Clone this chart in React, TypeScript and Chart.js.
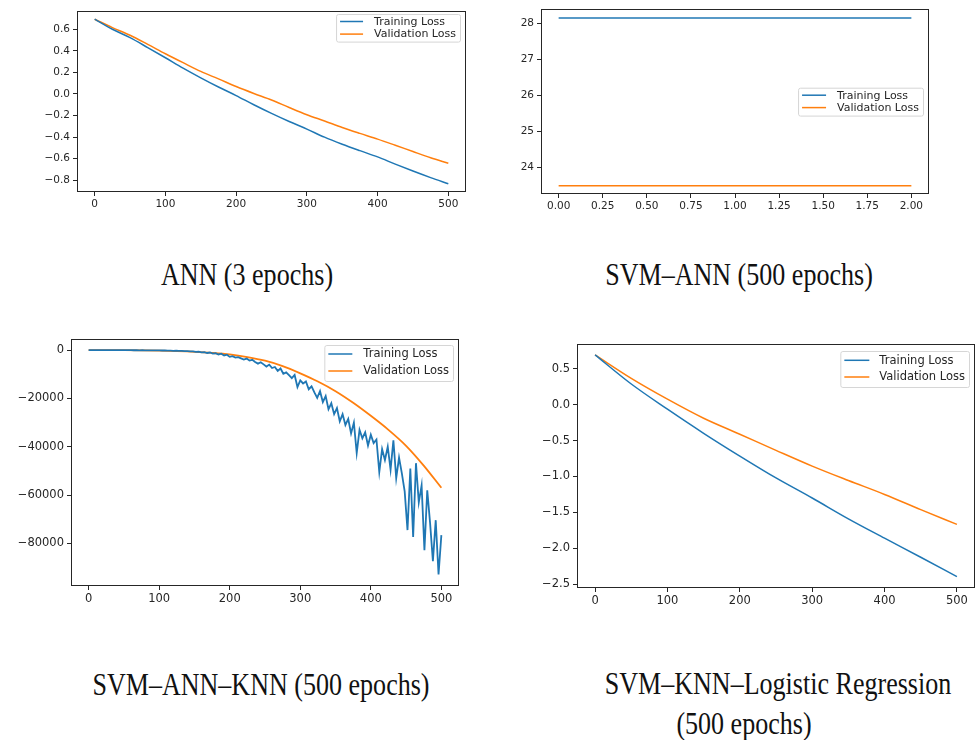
import React, { useEffect, useRef } from "react";
import { Chart, registerables } from "chart.js";

Chart.register(...registerables);

// ---------- DATA ----------
const annEpochs = [0, 25, 50, 75, 100, 125, 150, 175, 200, 225, 250, 275, 300, 325, 350, 375, 400, 425, 450, 475, 500];
const annTraining = [0.693, 0.6, 0.522, 0.43, 0.336, 0.24, 0.15, 0.065, -0.015, -0.1, -0.18, -0.255, -0.325, -0.4, -0.465, -0.525, -0.583, -0.65, -0.714, -0.775, -0.832];
const annValidation = [0.693, 0.615, 0.544, 0.46, 0.373, 0.29, 0.209, 0.14, 0.069, 0.005, -0.055, -0.125, -0.192, -0.25, -0.31, -0.365, -0.418, -0.475, -0.533, -0.59, -0.642];
const annYTicks = [-0.8, -0.6, -0.4, -0.2, 0.0, 0.2, 0.4, 0.6];
const epochTicks = [0, 100, 200, 300, 400, 500];

const svmAnnEpochs = [0, 1, 2];
const svmAnnTraining = [28.15, 28.15, 28.15];
const svmAnnValidation = [23.49, 23.49, 23.49];
const svmAnnXTicks = [0, 0.25, 0.5, 0.75, 1.0, 1.25, 1.5, 1.75, 2.0];
const svmAnnYTicks = [24, 25, 26, 27, 28];

const knnTrainEpochs = [
  0, 4, 8, 12, 16, 20, 24, 28, 32, 36,
  40, 44, 48, 52, 56, 60, 64, 68, 72, 76,
  80, 84, 88, 92, 96, 100, 104, 108, 112, 116,
  120, 124, 128, 132, 136, 140, 144, 148, 152, 156,
  160, 164, 168, 172, 176, 180, 184, 188, 192, 196,
  200, 204, 208, 212, 216, 220, 224, 228, 232, 236,
  240, 244, 248, 252, 256, 260, 264, 268, 272, 276,
  280, 284, 288, 292, 296, 300, 304, 308, 312, 316,
  320, 324, 328, 332, 336, 340, 344, 348, 352, 356,
  360, 364, 368, 372, 376, 380, 384, 388, 392, 396,
  400, 404, 408, 412, 416, 420, 424, 428, 432, 436,
  440, 444, 448, 452, 456, 460, 464, 468, 472, 476,
  480, 484, 488, 492, 496, 500,
];
const knnTraining = [
  0, 20, -10, 10, -5, 0, -20, 10, -15, 0,
  -25, -10, -30, -20, -45, -25, -50, -40, -70, -50,
  -90, -75, -110, -90, -140, -130, -170, -150, -220, -190,
  -280, -250, -350, -300, -450, -420, -560, -500, -750, -650,
  -950, -850, -1200, -1000, -1450, -1300, -1800, -1500, -2200, -1900,
  -2800, -2500, -3100, -2900, -3400, -3900, -3500, -4300, -4000, -4900,
  -5600, -5000, -5900, -6800, -6000, -7400, -7000, -8600, -7600, -9800,
  -9200, -10400, -11600, -10300, -15300, -12500, -13800, -13000, -16200, -15000,
  -17500, -19800, -17000, -21500, -19000, -24500, -22000, -26500, -24000, -29500,
  -26500, -31000, -28500, -34500, -30000, -42600, -33000, -36500, -34000, -39500,
  -35000, -38500, -37000, -50500, -41000, -45500, -40000, -49500, -37300, -53000,
  -44500, -51000, -58500, -74500, -49000, -77400, -46800, -63000, -56000, -82800,
  -58000, -71500, -87400, -70400, -92900, -76600,
];
const knnValEpochs = [0, 25, 50, 75, 100, 125, 150, 175, 200, 225, 250, 275, 300, 325, 350, 375, 400, 425, 450, 475, 500];
const knnValidation = [0, 0, -20, -80, -200, -400, -700, -1150, -1800, -2900, -4400, -6600, -9600, -13000, -17000, -21800, -27200, -33000, -39600, -47800, -57000];
const knnYTicks = [-80000, -60000, -40000, -20000, 0];

const lrEpochs = [0, 50, 100, 150, 200, 250, 300, 350, 400, 450, 500];
const lrTraining = [0.696, 0.29, -0.061, -0.397, -0.715, -1.02, -1.3, -1.59, -1.86, -2.126, -2.397];
const lrValidation = [0.696, 0.369, 0.079, -0.187, -0.41, -0.635, -0.855, -1.056, -1.25, -1.462, -1.668];
const lrYTicks = [-2.5, -2.0, -1.5, -1.0, -0.5, 0.0, 0.5];

const seriesLabels = ["Training Loss", "Validation Loss"];
const captions = [
  "ANN (3 epochs)",
  "SVM\u2013ANN (500 epochs)",
  "SVM\u2013ANN\u2013KNN (500 epochs)",
  "SVM\u2013KNN\u2013Logistic Regression",
  "(500 epochs)",
];

// ---------- STYLE ----------
const BLUE = "#1f77b4";
const ORANGE = "#ff7f0e";
const INK = "#262626";
const FONT = "'DejaVu Sans', sans-serif";

const minus = (s: string) => s.replace("-", "\u2212");

type LegendOpts = {
  loc: "upper right" | "center right";
  dx: number;
  dy: number;
  padTop: number;
  rowGap: number;
  padBottom: number;
  pad: number;
  handle: number;
  gap: number;
  size: number;
};

const framePlugin = {
  id: "mplFrame",
  afterDatasetsDraw(chart: any) {
    const { ctx, chartArea: a } = chart;
    ctx.save();
    ctx.strokeStyle = INK;
    ctx.lineWidth = 1;
    ctx.strokeRect(Math.round(a.left) + 0.5, Math.round(a.top) + 0.5, Math.round(a.right - a.left) - 1, Math.round(a.bottom - a.top) - 1);
    ctx.restore();
  },
};

const legendPlugin = {
  id: "mplLegend",
  afterDraw(chart: any, _args: any, opts: LegendOpts) {
    if (!opts || !opts.loc) return;
    const { ctx, chartArea: a } = chart;
    const sets = chart.data.datasets;
    ctx.save();
    ctx.font = `${opts.size}px ${FONT}`;
    let textW = 0;
    sets.forEach((d: any) => (textW = Math.max(textW, ctx.measureText(d.label).width)));
    const w = opts.pad + opts.handle + opts.gap + textW + opts.pad;
    const h = opts.padTop + opts.rowGap * (sets.length - 1) + opts.padBottom;
    const x = a.right - opts.dx - w;
    const y = opts.loc === "upper right" ? a.top + opts.dy : (a.top + a.bottom) / 2 - h / 2 + opts.dy;
    ctx.fillStyle = "rgba(255,255,255,0.85)";
    ctx.strokeStyle = "#d6d6d6";
    ctx.lineWidth = 1;
    ctx.beginPath();
    (ctx as any).roundRect(x + 0.5, y + 0.5, w, h, 2);
    ctx.fill();
    ctx.stroke();
    sets.forEach((d: any, i: number) => {
      const cy = y + opts.padTop + i * opts.rowGap;
      ctx.strokeStyle = d.borderColor;
      ctx.lineWidth = 1.5;
      ctx.beginPath();
      ctx.moveTo(x + opts.pad, cy);
      ctx.lineTo(x + opts.pad + opts.handle, cy);
      ctx.stroke();
      ctx.fillStyle = INK;
      ctx.textBaseline = "middle";
      ctx.textAlign = "left";
      ctx.fillText(d.label, x + opts.pad + opts.handle + opts.gap, cy + 0.5);
    });
    ctx.restore();
  },
};

type PanelSpec = {
  left: number;
  top: number;
  width: number;
  height: number;
  padTop: number;
  padRight: number;
  yAxisW: number;
  xAxisH: number;
  xMin: number;
  xMax: number;
  yMin: number;
  yMax: number;
  xTicks: number[];
  yTicks: number[];
  xFmt: (v: number) => string;
  yFmt: (v: number) => string;
  fontSize: number;
  lineWidth: number;
  datasets: { label: string; color: string; xs: number[]; ys: number[]; smooth: boolean }[];
  legend: LegendOpts;
};

function Panel({ spec }: { spec: PanelSpec }) {
  const ref = useRef<HTMLCanvasElement | null>(null);
  useEffect(() => {
    if (!ref.current) return;
    const tickFont = { family: FONT, size: spec.fontSize };
    const axisCommon = {
      type: "linear" as const,
      grid: { display: true, drawOnChartArea: false, drawTicks: true, tickLength: 4, color: INK, tickColor: INK, tickWidth: 1 },
      border: { display: false },
    };
    const chart = new Chart(ref.current, {
      type: "line",
      data: {
        datasets: spec.datasets.map((d) => ({
          label: d.label,
          data: d.xs.map((x, i) => ({ x, y: d.ys[i] })),
          borderColor: d.color,
          backgroundColor: d.color,
          borderWidth: spec.lineWidth,
          pointRadius: 0,
          fill: false,
          cubicInterpolationMode: d.smooth ? ("monotone" as const) : ("default" as const),
          tension: 0,
        })),
      },
      options: {
        animation: false,
        responsive: false,
        maintainAspectRatio: false,
        events: [],
        layout: { padding: { top: spec.padTop, right: spec.padRight, left: 0, bottom: 0 } },
        plugins: {
          legend: { display: false },
          tooltip: { enabled: false },
          mplLegend: spec.legend,
        } as any,
        scales: {
          x: {
            ...axisCommon,
            position: "bottom",
            min: spec.xMin,
            max: spec.xMax,
            ticks: { font: tickFont, color: INK, padding: 2, maxRotation: 0, autoSkip: false, callback: (v: any) => spec.xFmt(Number(v)) },
            afterBuildTicks: (axis: any) => {
              axis.ticks = spec.xTicks.map((v) => ({ value: v }));
            },
            afterFit: (axis: any) => {
              axis.height = spec.xAxisH;
            },
          },
          y: {
            ...axisCommon,
            position: "left",
            min: spec.yMin,
            max: spec.yMax,
            ticks: { font: tickFont, color: INK, padding: 3, autoSkip: false, callback: (v: any) => spec.yFmt(Number(v)) },
            afterBuildTicks: (axis: any) => {
              axis.ticks = spec.yTicks.map((v) => ({ value: v }));
            },
            afterFit: (axis: any) => {
              axis.width = spec.yAxisW;
            },
          },
        },
      },
      plugins: [framePlugin, legendPlugin],
    });
    return () => chart.destroy();
  }, [spec]);
  return (
    <canvas
      ref={ref}
      width={spec.width}
      height={spec.height}
      style={{ position: "absolute", left: spec.left, top: spec.top, width: spec.width, height: spec.height }}
    />
  );
}

const fmt1 = (v: number) => minus(v.toFixed(1));
const fmt2 = (v: number) => v.toFixed(2);
const fmt0 = (v: number) => minus(String(Math.round(v)));

const panels: PanelSpec[] = [
  {
    left: 0, top: 0, width: 480, height: 215, padTop: 11, padRight: 14, yAxisW: 77, xAxisH: 23,
    xMin: -25, xMax: 525, yMin: -0.908, yMax: 0.769, xTicks: epochTicks, yTicks: annYTicks,
    xFmt: fmt0, yFmt: fmt1, fontSize: 10.5, lineWidth: 1.5,
    datasets: [
      { label: seriesLabels[0], color: BLUE, xs: annEpochs, ys: annTraining, smooth: true },
      { label: seriesLabels[1], color: ORANGE, xs: annEpochs, ys: annValidation, smooth: true },
    ],
    legend: { loc: "upper right", dx: 6, dy: 3, padTop: 7.5, rowGap: 12.6, padBottom: 7.5, pad: 4, handle: 23, gap: 11, size: 11 },
  },
  {
    left: 490, top: 0, width: 488, height: 215, padTop: 9, padRight: 49, yAxisW: 51, xAxisH: 21,
    xMin: -0.1, xMax: 2.1, yMin: 23.26, yMax: 28.39, xTicks: svmAnnXTicks, yTicks: svmAnnYTicks,
    xFmt: fmt2, yFmt: fmt0, fontSize: 10.5, lineWidth: 1.5,
    datasets: [
      { label: seriesLabels[0], color: BLUE, xs: svmAnnEpochs, ys: svmAnnTraining, smooth: false },
      { label: seriesLabels[1], color: ORANGE, xs: svmAnnEpochs, ys: svmAnnValidation, smooth: false },
    ],
    legend: { loc: "center right", dx: 6, dy: 0, padTop: 7.5, rowGap: 12.4, padBottom: 8, pad: 4, handle: 24, gap: 11, size: 11 },
  },
  {
    left: 0, top: 320, width: 480, height: 290, padTop: 19, padRight: 21, yAxisW: 71, xAxisH: 24,
    xMin: -25, xMax: 525, yMin: -97650, yMax: 4600, xTicks: epochTicks, yTicks: knnYTicks,
    xFmt: fmt0, yFmt: fmt0, fontSize: 11.5, lineWidth: 1.8,
    datasets: [
      { label: seriesLabels[0], color: BLUE, xs: knnTrainEpochs, ys: knnTraining, smooth: false },
      { label: seriesLabels[1], color: ORANGE, xs: knnValEpochs, ys: knnValidation, smooth: true },
    ],
    legend: { loc: "upper right", dx: 6, dy: 6, padTop: 9, rowGap: 17, padBottom: 10, pad: 4, handle: 24, gap: 11, size: 11.5 },
  },
  {
    left: 490, top: 320, width: 488, height: 290, padTop: 24, padRight: 3, yAxisW: 87, xAxisH: 22,
    xMin: -25, xMax: 525, yMin: -2.555, yMax: 0.848, xTicks: epochTicks, yTicks: lrYTicks,
    xFmt: fmt0, yFmt: fmt1, fontSize: 11.5, lineWidth: 1.5,
    datasets: [
      { label: seriesLabels[0], color: BLUE, xs: lrEpochs, ys: lrTraining, smooth: true },
      { label: seriesLabels[1], color: ORANGE, xs: lrEpochs, ys: lrValidation, smooth: true },
    ],
    legend: { loc: "upper right", dx: 6, dy: 7, padTop: 9.3, rowGap: 16.7, padBottom: 10, pad: 4, handle: 25, gap: 10, size: 11.5 },
  },
];

const captionSpecs = [
  { text: captions[0], cx: 247, baseline: 285 },
  { text: captions[1], cx: 739, baseline: 285 },
  { text: captions[2], cx: 261, baseline: 695 },
  { text: captions[3], cx: 778, baseline: 694 },
  { text: captions[4], cx: 744, baseline: 734 },
];

const CAP_SIZE = 31;

export default function App() {
  return (
    <div style={{ position: "absolute", left: 0, top: 0, width: 978, height: 740, background: "#fff", overflow: "hidden" }}>
      {panels.map((p, i) => (
        <Panel key={i} spec={p} />
      ))}
      {captionSpecs.map((c, i) => (
        <div
          key={"c" + i}
          style={{
            position: "absolute",
            left: c.cx - 300,
            width: 600,
            top: c.baseline - 0.891 * CAP_SIZE - (CAP_SIZE - 1.107 * CAP_SIZE) / 2,
            textAlign: "center",
            fontFamily: "'Liberation Serif', 'Times New Roman', serif",
            fontSize: CAP_SIZE,
            lineHeight: `${CAP_SIZE}px`,
            color: "#111",
            whiteSpace: "nowrap",
            transform: "scaleX(0.84)",
            transformOrigin: "center",
          }}
        >
          {c.text}
        </div>
      ))}
    </div>
  );
}
